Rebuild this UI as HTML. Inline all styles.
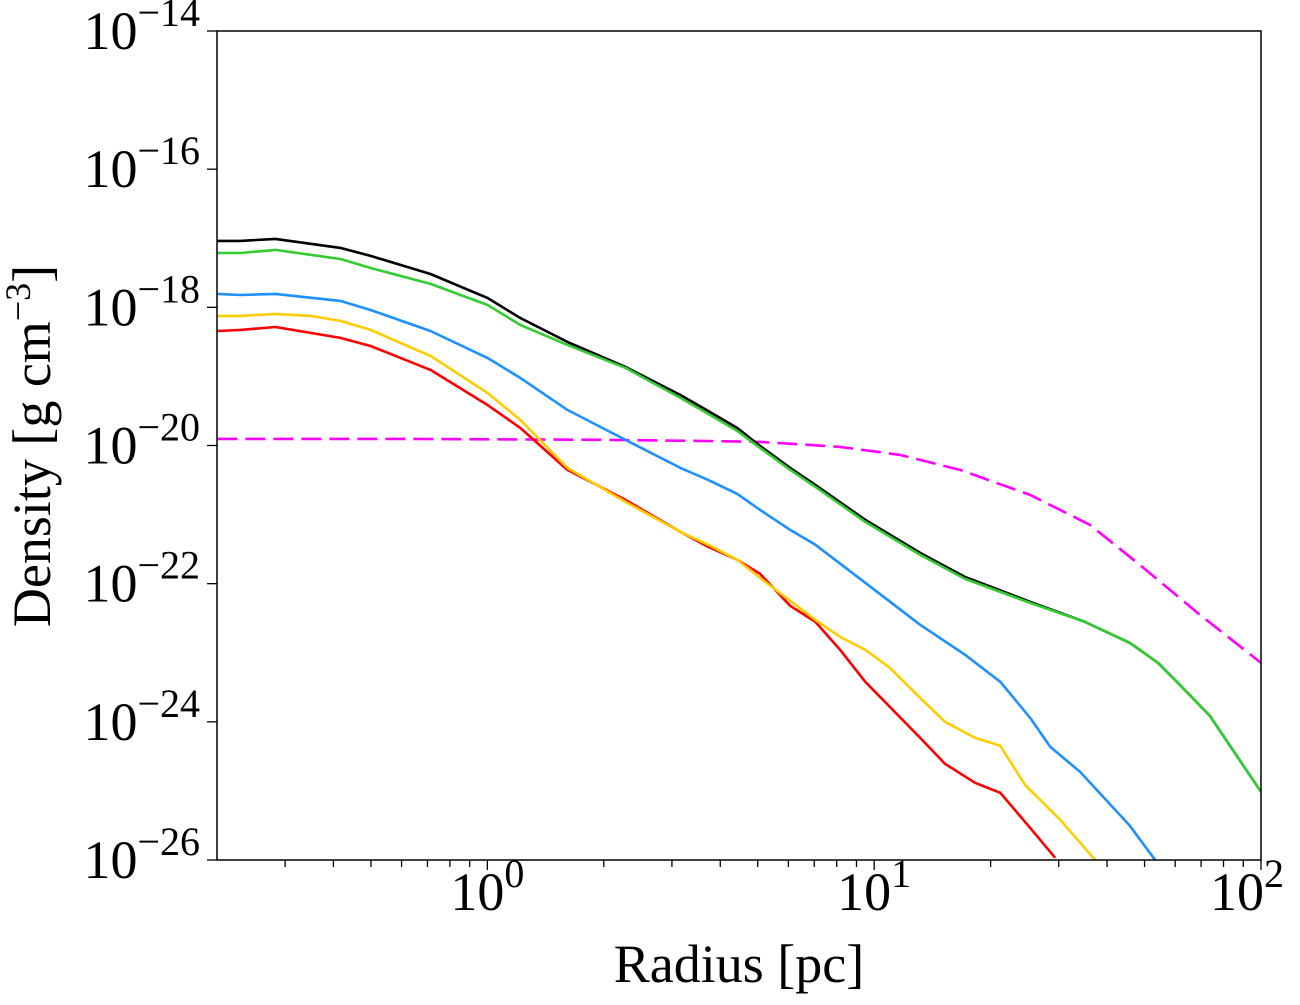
<!DOCTYPE html>
<html><head><meta charset="utf-8"><style>
html,body{margin:0;padding:0;background:#fff}
svg text{font-family:"Liberation Serif",serif;fill:#000}
</style></head><body>
<svg id="chart" width="1300" height="1000" viewBox="0 0 1300 1000" xmlns="http://www.w3.org/2000/svg">
<defs><clipPath id="clip"><rect x="217" y="31" width="1044" height="829"/></clipPath></defs>
<g id="series" clip-path="url(#clip)"></g>
<rect x="217" y="31" width="1044" height="829" fill="none" stroke="#000" stroke-width="1.5"/>
<g id="axes"></g>
<text x="739" y="982" font-size="54" text-anchor="middle">Radius [pc]</text>
<text transform="translate(50,446) rotate(-90)" font-size="54" text-anchor="middle">Density [g cm<tspan dy="-20" font-size="36">−3</tspan><tspan dy="20">]</tspan></text>
</svg>
<script>
const xTicksExp=[0,1,2];
const yTicksExp=[-26,-24,-22,-20,-18,-16,-14];
const blackLogR=[-0.698,-0.638,-0.548,-0.380,-0.302,-0.147,0,0.085,0.207,0.357,0.499,0.571,0.646,0.705,0.783,0.848,0.977,1.119,1.235,1.403,1.545,1.661,1.734,1.798,1.868,2.0];
const blackLogRho=[-17.039,-17.039,-17.010,-17.140,-17.256,-17.517,-17.864,-18.154,-18.501,-18.863,-19.269,-19.500,-19.746,-20.007,-20.324,-20.571,-21.077,-21.555,-21.903,-22.263,-22.553,-22.857,-23.147,-23.509,-23.914,-25.013];
const greenLogR=blackLogR;
const greenLogRho=[-17.213,-17.213,-17.169,-17.300,-17.430,-17.661,-17.965,-18.255,-18.544,-18.877,-19.311,-19.543,-19.789,-20.035,-20.353,-20.599,-21.106,-21.583,-21.931,-22.278,-22.553,-22.857,-23.147,-23.509,-23.914,-25.013];
const blueLogR=[-0.698,-0.638,-0.548,-0.380,-0.302,-0.147,0,0.085,0.207,0.357,0.499,0.571,0.646,0.705,0.783,0.848,0.977,1.119,1.235,1.326,1.403,1.455,1.532,1.661,1.726];
const blueLogRho=[-17.806,-17.821,-17.806,-17.907,-18.038,-18.342,-18.732,-19.022,-19.485,-19.919,-20.324,-20.498,-20.700,-20.932,-21.221,-21.438,-21.988,-22.596,-23.030,-23.421,-23.942,-24.362,-24.723,-25.505,-25.997];
const yellowLogR=[-0.698,-0.638,-0.548,-0.457,-0.380,-0.302,-0.147,0,0.085,0.207,0.357,0.499,0.571,0.646,0.705,0.783,0.848,0.912,0.977,1.041,1.119,1.183,1.261,1.326,1.390,1.481,1.571];
const yellowLogRho=[-18.124,-18.124,-18.095,-18.124,-18.197,-18.327,-18.703,-19.239,-19.629,-20.324,-20.816,-21.250,-21.438,-21.655,-21.916,-22.249,-22.524,-22.770,-22.958,-23.219,-23.653,-24.000,-24.232,-24.347,-24.912,-25.418,-25.997];
const redLogR=[-0.698,-0.638,-0.548,-0.380,-0.302,-0.147,0,0.085,0.207,0.357,0.499,0.571,0.646,0.705,0.783,0.848,0.912,0.977,1.119,1.183,1.261,1.326,1.403,1.468];
const redLogRho=[-18.342,-18.327,-18.284,-18.443,-18.559,-18.906,-19.413,-19.745,-20.353,-20.787,-21.250,-21.467,-21.655,-21.858,-22.321,-22.553,-22.958,-23.421,-24.232,-24.608,-24.883,-25.027,-25.534,-25.968];
const magentaLogR=[-0.698,-0.225,0.292,0.550,0.705,0.912,1.067,1.222,1.403,1.558,1.687,1.842,2.0];
const magentaLogRho=[-19.904,-19.904,-19.918,-19.933,-19.948,-20.020,-20.136,-20.353,-20.715,-21.149,-21.728,-22.451,-23.146];

const X0=217,X1=1261,Y0=31,Y1=860,XMIN=Math.log10(0.2),XMAX=2,YMIN=-26,YMAX=-14;
const xs=v=>X0+(v-XMIN)/(XMAX-XMIN)*(X1-X0);
const ys=v=>Y1-(v-YMIN)/(YMAX-YMIN)*(Y1-Y0);
const NS="http://www.w3.org/2000/svg";
const series=document.getElementById('series');
const axes=document.getElementById('axes');
function line(lr,lrho,color,name,dash){
  const p=document.createElementNS(NS,'polyline');
  p.setAttribute('points',lr.map((v,i)=>xs(v).toFixed(1)+','+ys(lrho[i]).toFixed(1)).join(' '));
  p.setAttribute('fill','none');p.setAttribute('stroke',color);p.setAttribute('stroke-width','2.6');
  p.setAttribute('stroke-linejoin','round');
  if(dash)p.setAttribute('stroke-dasharray',dash);
  
  
  series.appendChild(p);
}
line(magentaLogR,magentaLogRho,'#ff00ff','magenta-dashed-profile','20,8');
line(redLogR,redLogRho,'#ff0000','red-density-line');
line(yellowLogR,yellowLogRho,'#ffcc00','yellow-density-line');
line(blueLogR,blueLogRho,'#1e90ff','blue-density-line');
line(blackLogR,blackLogRho,'#000000','black-density-line');
line(greenLogR,greenLogRho,'#33cc33','green-density-line');

function tick(x1,y1,x2,y2){
  const l=document.createElementNS(NS,'line');
  l.setAttribute('x1',x1);l.setAttribute('y1',y1);l.setAttribute('x2',x2);l.setAttribute('y2',y2);
  l.setAttribute('stroke','#000');l.setAttribute('stroke-width','1.3');
  
  
  axes.appendChild(l);
}
function label(x,y,exp,anchor,name){
  const t=document.createElementNS(NS,'text');
  t.setAttribute('x',x);t.setAttribute('y',y);t.setAttribute('font-size','54');t.setAttribute('text-anchor',anchor);
  t.innerHTML='10<tspan dy="-23" font-size="40">'+(exp<0?'−'+(-exp):exp)+'</tspan>';
  
  
  axes.appendChild(t);
}
xTicksExp.forEach(e=>{const x=xs(e);tick(x,Y1,x,Y1+10);label(x+(e===2?-14:0),Y1+50,e,'middle','x-tick-label');});
for(let d=-1;d<2;d++)for(let k=2;k<10;k++){const v=d+Math.log10(k);if(v>XMIN&&v<XMAX){tick(xs(v),Y1,xs(v),Y1+7);}}
yTicksExp.forEach(e=>{const y=ys(e);tick(X0-10,y,X0,y);label(200,y+18,e,'end','y-tick-label');});
</script>
</body></html>
